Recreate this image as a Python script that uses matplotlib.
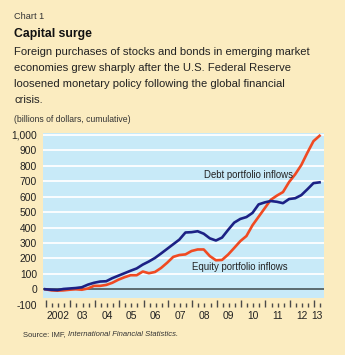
import numpy as np
import matplotlib
matplotlib.use("Agg")
import matplotlib.pyplot as plt

plt.rcParams["font.family"] = ["Liberation Sans", "DejaVu Sans"]

# quarterly observations, cumulative billions of dollars
quarters = 2001.97 + np.arange(46) * 0.25
blue_vals = [0, -3, -5, 2, 5, 8, 13, 30, 42, 50, 52, 72, 88, 104, 120, 135,
             160, 180, 203, 232, 262, 292, 322, 368, 370, 376, 360, 330, 316, 335,
             385, 432, 456, 468, 495, 550, 563, 572, 567, 558, 585, 590, 610, 648,
             688, 693]
red_vals = [0, -7, -9, -7, -3, 0, -3, 5, 22, 22, 28, 42, 62, 78, 91, 91,
            115, 104, 112, 138, 172, 210, 222, 226, 248, 258, 258, 215, 188, 190,
            225, 268, 312, 345, 415, 470, 525, 580, 607, 630, 695, 745, 805, 885,
            960, 995]
year_ticks = list(range(2002, 2014))
year_labels = ["2002", "03", "04", "05", "06", "07", "08", "09", "10", "11", "12", "13"]
y_ticks = list(range(-100, 1001, 100))

bg = "#FBECC0"
panel = "#C8EAF8"
navy = "#1C2185"
red = "#F04A22"
ink = "#222222"

fig = plt.figure(figsize=(3.45, 3.55), dpi=100, facecolor=bg)
ax = fig.add_axes([0.1255, 0.1352, 0.8135, 0.4902])
ax.set_facecolor(bg)
ax.set_xlim(2001.89, 2013.40)
ax.set_ylim(-115, 1013)
ax.axhspan(-56, 1013, color=panel, zorder=0, lw=0)
for v in y_ticks[2:]:
    ax.axhline(v, color="white", lw=1.3, zorder=1)
ax.axhline(0, color="#5C6B70", lw=1.4, zorder=2)

ax.plot(quarters, red_vals, color=red, lw=1.9, zorder=3)
ax.plot(quarters, blue_vals, color=navy, lw=1.9, zorder=4)

ax.text(2010.3, 740, "Debt portfolio inflows", fontsize=6.9, color=ink,
        ha="center", va="center", zorder=5)
ax.text(2009.95, 146, "Equity portfolio inflows", fontsize=6.9, color=ink,
        ha="center", va="center", zorder=5)

for s in ax.spines.values():
    s.set_visible(False)

ax.set_yticks(y_ticks)
ax.set_yticklabels([f"{v:,}" for v in y_ticks])
ax.tick_params(axis="y", length=0, labelsize=7.4, pad=4.5, colors=ink)

label_pos = [y + 0.5 for y in year_ticks[:-1]] + [2013.11]
ax.set_xticks(label_pos)
ax.set_xticklabels(year_labels)
ax.tick_params(axis="x", length=0, labelsize=7.4, pad=3, colors=ink)

sec = ax.secondary_xaxis(0.0)
sec.set_xticks(year_ticks)
sec.set_xticks(np.arange(2002, 2013.3, 0.25), minor=True)
sec.tick_params(axis="x", which="major", direction="in", length=5.4, width=1.0,
                color="#4A4A4A", labelbottom=False)
sec.tick_params(axis="x", which="minor", direction="in", length=3.0, width=1.0,
                color="#4A4A4A")
sec.spines["bottom"].set_visible(False)

fig.text(0.041, 1 - 16.7 / 355, "Chart 1", fontsize=6.6, color="#333333", va="center")
fig.text(0.041, 1 - 34 / 355, "Capital surge", fontsize=8.8, fontweight="bold",
         color="#111111", va="center")
sub_lines = ["Foreign purchases of stocks and bonds in emerging market",
             "economies grew sharply after the U.S. Federal Reserve",
             "loosened monetary policy following the global financial",
             "crisis."]
for i, line in enumerate(sub_lines):
    fig.text(0.041, 1 - (51.7 + 16.1 * i) / 355, line, fontsize=8.1, color=ink,
             va="center")
fig.text(0.041, 1 - 119 / 355, "(billions of dollars, cumulative)", fontsize=6.2,
         color="#333333", va="center")

src = fig.text(0.066, 1 - 335 / 355, "Source: IMF, ", fontsize=5.5, color="#333333",
               va="center")
fig.canvas.draw()
bb = src.get_window_extent(renderer=fig.canvas.get_renderer())
fig.text(bb.x1 / fig.bbox.width, 1 - 335 / 355, "International Financial Statistics.",
         fontsize=5.5, style="italic", color="#333333", va="center")

fig.savefig("out.png", dpi=100, facecolor=bg)
